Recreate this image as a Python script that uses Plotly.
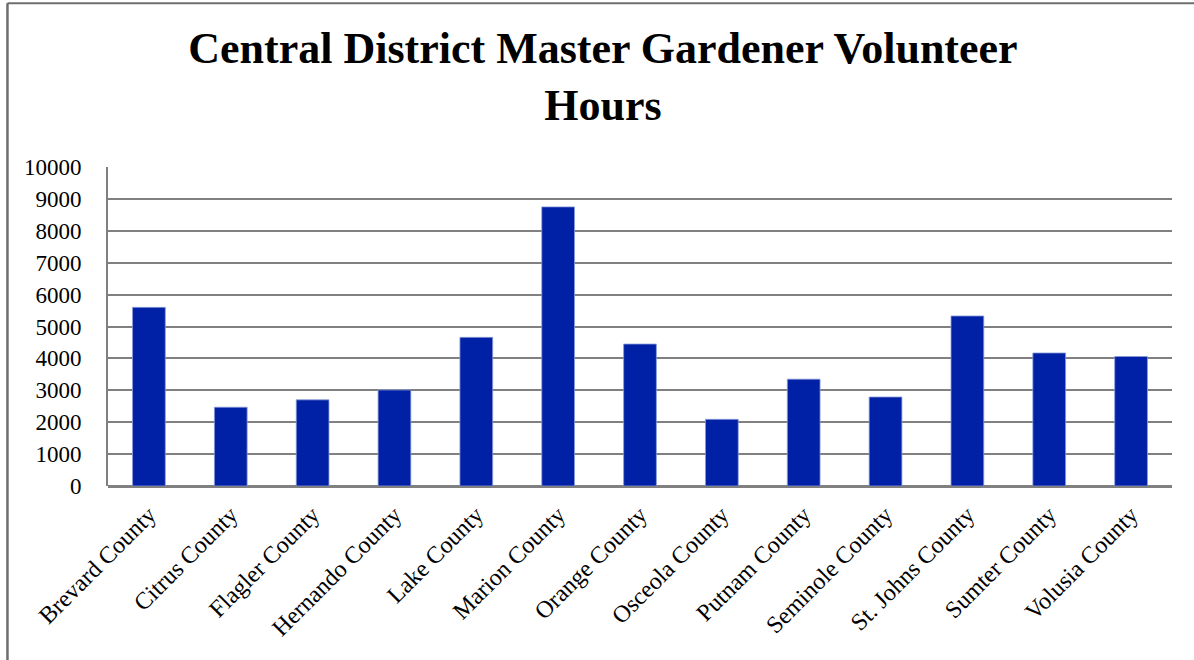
import plotly.graph_objects as go

# County names and volunteer hours
counties = ["Brevard County", "Citrus County", "Flagler County", "Hernando County",
            "Lake County", "Marion County", "Orange County", "Osceola County",
            "Putnam County", "Seminole County", "St. Johns County", "Sumter County",
            "Volusia County"]
hours = [5600, 2470, 2700, 3010, 4660, 8750, 4450, 2090, 3350, 2790, 5330, 4170, 4060]
y_ticks = list(range(0, 10001, 1000))

FONT = "Liberation Serif, Times New Roman, serif"
GRID = "#808080"

fig = go.Figure()
fig.add_trace(go.Bar(
    x=counties, y=hours,
    marker=dict(color="#0020A5", line=dict(color="#8a9ad8", width=0.8)),
    name="Hours",
))

# outer frame of the chart area (left and top edges visible)
fig.add_shape(type="line", xref="paper", yref="paper",
              x0=-0.0945, x1=-0.0945, y0=1.513, y1=-0.6,
              line=dict(color="#6e6e6e", width=2.5))
fig.add_shape(type="line", xref="paper", yref="paper",
              x0=-0.0945, x1=1.03, y0=1.513, y1=1.513,
              line=dict(color="#6e6e6e", width=2))

fig.update_layout(
    width=1194, height=660,
    margin=dict(l=108, r=22, t=167, b=174),
    paper_bgcolor="white", plot_bgcolor="white",
    showlegend=False,
    bargap=0.6,
    font=dict(family=FONT, color="black", size=22),
    title=dict(
        text="<b>Central District Master Gardener Volunteer<br>Hours</b>",
        x=0.505, xanchor="center", y=0.905, yanchor="middle",
        font=dict(family=FONT, size=44, color="black"),
    ),
    xaxis=dict(
        tickangle=-45, showgrid=False, showline=False, ticks="",
        tickfont=dict(size=24, family=FONT), ticklabelstandoff=9,
    ),
    yaxis=dict(
        range=[0, 10000], tickvals=y_ticks, ticktext=[str(v) for v in y_ticks],
        showgrid=True, gridcolor=GRID, gridwidth=2,
        showline=True, linecolor=GRID, linewidth=2,
        zeroline=True, zerolinecolor=GRID, zerolinewidth=2.5,
        ticks="", ticklen=0, tickfont=dict(size=23, family=FONT),
        ticklabelstandoff=20, fixedrange=True,
    ),
)

# drop the browser's default body margin so the figure sits at the page corner
fig.write_html("out.html", config={"displayModeBar": False},
               post_script="document.body.style.margin='0';")
